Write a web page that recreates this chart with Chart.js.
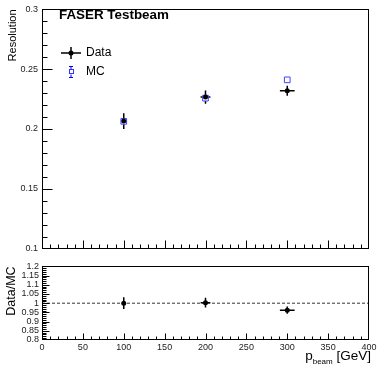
<!DOCTYPE html>
<html>
<head>
<meta charset="utf-8">
<script src="https://cdn.jsdelivr.net/npm/chart.js@4.4.1/dist/chart.umd.min.js"></script>
<style>
  html, body { margin: 0; padding: 0; background: #fff; }
  #wrap { position: relative; width: 381px; height: 370px; background: #fff; }
  canvas { position: absolute; left: 0; }
  #resChart { top: 0; }
  #ratioChart { top: 258px; }
</style>
</head>
<body>
<div id="wrap">
  <canvas id="resChart" width="381" height="258"></canvas>
  <canvas id="ratioChart" width="381" height="112"></canvas>
</div>
<script>
// Data
const beamEnergy = [100, 200, 300];
const energyErr = [2, 6, 9];
const dataRes = [0.2066, 0.2267, 0.2320];
const dataResErr = [0.0065, 0.0055, 0.0042];
const mcRes = [0.2064, 0.2258, 0.2411];
const mcResErr = [0.001, 0.001, 0.001];
const ratio = [1.000, 1.003, 0.962];
const ratioErr = [0.032, 0.027, 0.020];
const ratioRefX = [0, 400];
const ratioRef = 1;

// Tick labels
const resTicks = [0.1, 0.15, 0.2, 0.25, 0.3];
const ratioTicks = [0.8, 0.85, 0.9, 0.95, 1, 1.05, 1.1, 1.15, 1.2];
const energyTicks = [0, 50, 100, 150, 200, 250, 300, 350, 400];

const FONT = "'Liberation Sans', Arial, Helvetica, sans-serif";
Chart.defaults.font.family = FONT;

const fmt = v => String(+v.toFixed(3));
const points = (xs, ys) => xs.map((x, i) => ({ x: x, y: ys[i] }));

// Draw error bars behind the markers
const errorBars = {
  id: 'errorBars',
  beforeDatasetsDraw(chart) {
    const { ctx, scales: { x, y } } = chart;
    chart.data.datasets.forEach(ds => {
      if (!ds.errY) return;
      ctx.save();
      ctx.strokeStyle = ds.errColor;
      ctx.lineWidth = 1.5;
      ds.data.forEach((p, i) => {
        const px = x.getPixelForValue(p.x);
        const py = y.getPixelForValue(p.y);
        const y1 = y.getPixelForValue(p.y - ds.errY[i]);
        const y2 = y.getPixelForValue(p.y + ds.errY[i]);
        ctx.beginPath();
        ctx.moveTo(px, y1); ctx.lineTo(px, y2);
        if (ds.caps) {
          ctx.moveTo(px - 2, y1); ctx.lineTo(px + 2, y1);
          ctx.moveTo(px - 2, y2); ctx.lineTo(px + 2, y2);
        }
        if (ds.errX && ds.errX[i]) {
          ctx.moveTo(x.getPixelForValue(p.x - ds.errX[i]), py);
          ctx.lineTo(x.getPixelForValue(p.x + ds.errX[i]), py);
        }
        ctx.stroke();
      });
      ctx.restore();
    });
  }
};

// ROOT style frame with inward ticks
const frameTicks = {
  id: 'frameTicks',
  afterDraw(chart, args, o) {
    const { ctx, chartArea: a, scales: { x, y } } = chart;
    const L = Math.round(a.left) + 0.5, T = Math.round(a.top) + 0.5;
    const R = Math.round(a.right) - 0.5, B = Math.round(a.bottom) - 0.5;
    ctx.save();
    ctx.strokeStyle = '#000';
    ctx.lineWidth = 1;
    ctx.beginPath();
    // y ticks on the left edge
    const ny = Math.round((y.max - y.min) / o.yMinor);
    for (let i = 0; i <= ny; i++) {
      const v = y.min + i * o.yMinor;
      const py = Math.min(B, Math.max(T, Math.round(y.getPixelForValue(v)) + 0.5));
      const len = i % o.yEvery === 0 ? o.yMajorLen : o.yMinorLen;
      ctx.moveTo(L, py); ctx.lineTo(L + len, py);
    }
    // x ticks on the bottom edge
    const nx = Math.round((x.max - x.min) / o.xMinor);
    for (let i = 0; i <= nx; i++) {
      const v = x.min + i * o.xMinor;
      const px = Math.min(R, Math.max(L, Math.round(x.getPixelForValue(v)) + 0.5));
      const len = i % o.xEvery === 0 ? o.xMajorLen : o.xMinorLen;
      ctx.moveTo(px, B); ctx.lineTo(px, B - len);
    }
    ctx.stroke();
    ctx.strokeRect(L, T, R - L, B - T);
    ctx.restore();
  }
};

// Header text and legend on the upper panel
const topDecor = {
  id: 'topDecor',
  afterDraw(chart) {
    const ctx = chart.ctx;
    ctx.save();
    ctx.fillStyle = '#000';
    ctx.textBaseline = 'middle';
    ctx.font = 'bold 13.4px ' + FONT;
    ctx.fillText('FASER Testbeam', 59, 15);

    // Data entry
    ctx.strokeStyle = '#000';
    ctx.lineWidth = 1.5;
    ctx.beginPath();
    ctx.moveTo(61, 53); ctx.lineTo(81, 53);
    ctx.moveTo(71, 47); ctx.lineTo(71, 59);
    ctx.stroke();
    ctx.beginPath();
    ctx.arc(71, 53, 2.5, 0, Math.PI * 2);
    ctx.fill();
    ctx.font = '12px ' + FONT;
    ctx.fillText('Data', 86, 53);

    // MC entry
    ctx.strokeStyle = '#0000ff';
    ctx.lineWidth = 1;
    ctx.beginPath();
    ctx.moveTo(71, 66.5); ctx.lineTo(71, 69.5);
    ctx.moveTo(71, 74.5); ctx.lineTo(71, 77.5);
    ctx.moveTo(69, 66.5); ctx.lineTo(73, 66.5);
    ctx.moveTo(69, 77.5); ctx.lineTo(73, 77.5);
    ctx.stroke();
    ctx.strokeStyle = '#3333ff';
    ctx.strokeRect(69.5, 69.5, 4, 4);
    ctx.fillText('MC', 86, 72);
    ctx.restore();
  }
};

// x axis title with subscript
const xTitle = {
  id: 'xTitle',
  afterDraw(chart) {
    const ctx = chart.ctx;
    ctx.save();
    ctx.fillStyle = '#000';
    ctx.textBaseline = 'alphabetic';
    ctx.textAlign = 'right';
    const right = 371, base = 102;
    ctx.font = '13.5px ' + FONT;
    ctx.fillText(' [GeV]', right, base);
    const w1 = ctx.measureText(' [GeV]').width;
    ctx.font = '8px ' + FONT;
    ctx.fillText('beam', right - w1, base + 4);
    const w2 = ctx.measureText('beam').width;
    ctx.font = '13.5px ' + FONT;
    ctx.fillText('p', right - w1 - w2, base);
    ctx.restore();
  }
};

const tickFont = { size: 9, family: FONT };

new Chart(document.getElementById('resChart'), {
  type: 'scatter',
  data: {
    datasets: [
      {
        label: 'Data',
        data: points(beamEnergy, dataRes),
        errX: energyErr, errY: dataResErr, errColor: '#000', caps: false,
        pointStyle: 'circle', pointRadius: 2.5,
        backgroundColor: '#000', borderColor: '#000', borderWidth: 0
      },
      {
        label: 'MC',
        data: points(beamEnergy, mcRes),
        errY: mcResErr, errColor: '#0000ff', caps: false,
        pointStyle: 'rect', pointRadius: 4,
        backgroundColor: '#fff', borderColor: '#4040ff', borderWidth: 1
      }
    ]
  },
  options: {
    responsive: false,
    animation: false,
    events: [],
    layout: { padding: { left: 0, right: 12, top: 4, bottom: 5 } },
    plugins: {
      legend: { display: false },
      tooltip: { enabled: false },
      frameTicks: { yMinor: 0.01, yEvery: 5, yMajorLen: 10, yMinorLen: 5,
                    xMinor: 10, xEvery: 5, xMajorLen: 8, xMinorLen: 4 }
    },
    scales: {
      x: { type: 'linear', min: 0, max: 400, display: false },
      y: {
        min: 0.1, max: 0.3,
        afterFit: s => { s.width = 42; },
        afterBuildTicks: s => { s.ticks = resTicks.map(v => ({ value: v })); },
        grid: { display: false, drawTicks: false },
        border: { display: false },
        ticks: { padding: 4, font: tickFont, color: '#222', autoSkip: false, callback: fmt },
        title: { display: true, text: 'Resolution', align: 'end', color: '#000',
                 font: { size: 11, family: FONT }, padding: { top: 6, bottom: 0 } }
      }
    }
  },
  plugins: [errorBars, frameTicks, topDecor]
});

new Chart(document.getElementById('ratioChart'), {
  type: 'scatter',
  data: {
    datasets: [
      {
        label: 'Data/MC',
        data: points(beamEnergy, ratio),
        errX: energyErr, errY: ratioErr, errColor: '#000', caps: false,
        pointStyle: 'circle', pointRadius: 2.5,
        backgroundColor: '#000', borderColor: '#000', borderWidth: 0
      },
      {
        label: 'ref',
        type: 'line',
        data: ratioRefX.map(x => ({ x: x, y: ratioRef })),
        borderColor: '#333', borderWidth: 1, borderDash: [3, 2],
        pointRadius: 0, fill: false
      }
    ]
  },
  options: {
    responsive: false,
    animation: false,
    events: [],
    layout: { padding: { left: 0, right: 12, top: 6, bottom: 0 } },
    plugins: {
      legend: { display: false },
      tooltip: { enabled: false },
      frameTicks: { yMinor: 0.01, yEvery: 5, yMajorLen: 7, yMinorLen: 4,
                    xMinor: 10, xEvery: 5, xMajorLen: 6, xMinorLen: 3 }
    },
    scales: {
      x: {
        type: 'linear', min: 0, max: 400,
        afterFit: s => { s.height = 30; },
        afterBuildTicks: s => { s.ticks = energyTicks.map(v => ({ value: v })); },
        grid: { display: false, drawTicks: false },
        border: { display: false },
        ticks: { padding: 2, font: tickFont, color: '#222', autoSkip: false, maxRotation: 0 }
      },
      y: {
        min: 0.8, max: 1.2,
        afterFit: s => { s.width = 42; },
        afterBuildTicks: s => { s.ticks = ratioTicks.map(v => ({ value: v })); },
        grid: { display: false, drawTicks: false },
        border: { display: false },
        ticks: { padding: 3, font: tickFont, color: '#222', autoSkip: false, callback: fmt },
        title: { display: true, text: 'Data/MC', align: 'end', color: '#000',
                 font: { size: 12.5, family: FONT }, padding: { top: 4, bottom: 0 } }
      }
    }
  },
  plugins: [errorBars, frameTicks, xTitle]
});
</script>
</body>
</html>
